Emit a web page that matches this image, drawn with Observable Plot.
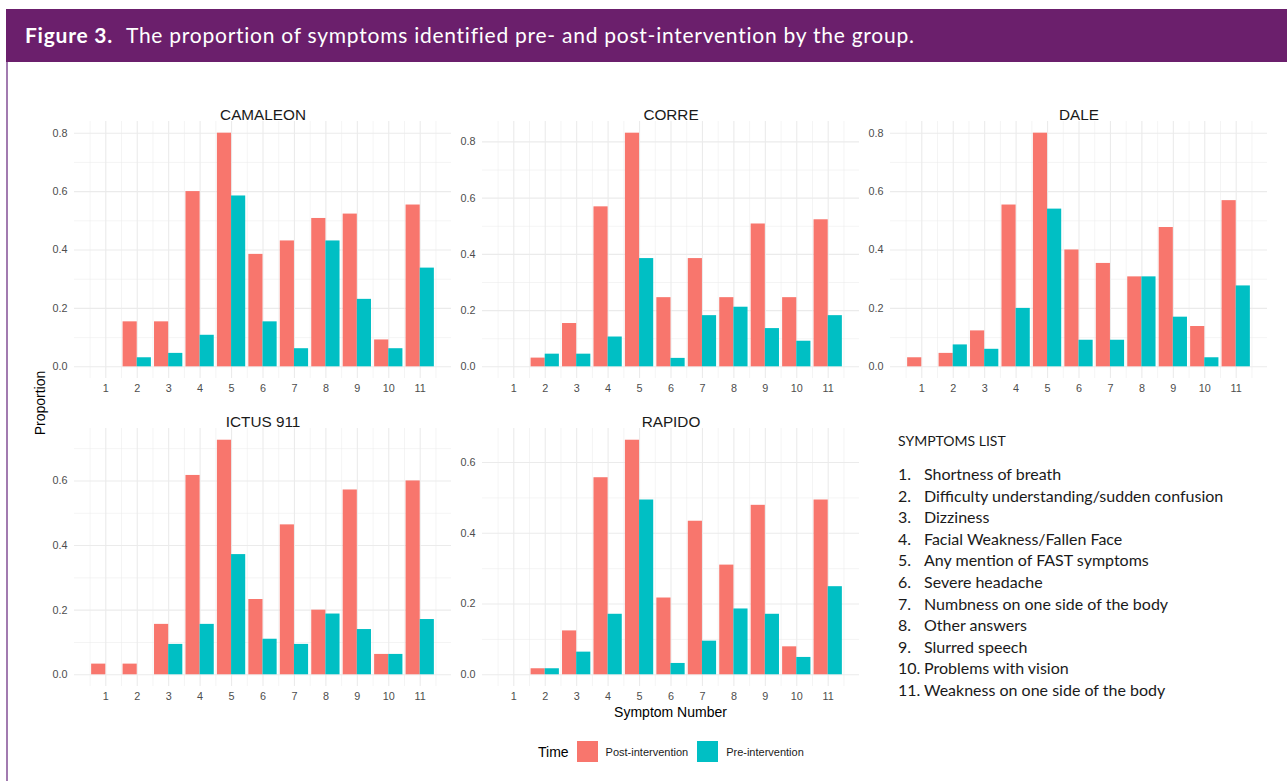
<!DOCTYPE html>
<html>
<head>
<meta charset="utf-8">
<script src="https://cdn.jsdelivr.net/npm/d3@7"></script>
<script src="https://cdn.jsdelivr.net/npm/@observablehq/plot@0.6"></script>
<style>
  body { margin: 0; background: #fff; }
  #fig { position: relative; width: 1287px; height: 781px; overflow: hidden; background: #fff;
         font-family: "Liberation Sans", Arial, sans-serif; }
  .abs { position: absolute; }
  #header { left: 6px; top: 9px; width: 1281px; height: 53px; background: #6B1F6C; }
  #leftBorder { left: 6px; top: 62px; width: 2px; height: 719px; background: #A27BB0; }
  #figTitle { left: 25px; top: 8px; height: 53px; line-height: 53px; color: #fff; white-space: nowrap;
              font-family: Lato, "Open Sans", sans-serif; font-size: 21px; letter-spacing: 0.75px; }
  #figTitle b { margin-right: 13px; }
  .panel svg { overflow: visible; }
  #ylab { font-size: 14px; color: #000; white-space: nowrap; transform: translate(-50%, -50%) rotate(-90deg);
          line-height: 16px; }
  #xlab { font-size: 14px; color: #000; white-space: nowrap; transform: translate(-50%, -50%); line-height: 16px; }
  #legend { display: flex; align-items: center; white-space: nowrap; }
  .sw { width: 21px; height: 21px; display: inline-block; }
  #symList { font-family: Lato, "Open Sans", sans-serif; color: #1a1a1a; }
  #symList .row { position: absolute; height: 21.5px; line-height: 21.5px; font-size: 16px; white-space: nowrap; }
</style>
</head>
<body>
<div id="fig">
  <div id="header" class="abs"></div>
  <div id="leftBorder" class="abs"></div>
  <div id="figTitle" class="abs"></div>
</div>
<script>
// ---------------- data ----------------
const figureLabel = "Figure 3.";
const figureTitle = "The proportion of symptoms identified pre- and post-intervention by the group.";
const symptoms = [1, 2, 3, 4, 5, 6, 7, 8, 9, 10, 11];
const timeLevels = ["Post-intervention", "Pre-intervention"];
const groups = ["CAMALEON", "CORRE", "DALE", "ICTUS 911", "RAPIDO"];

const camaleonPost = [0, 0.154, 0.154, 0.600, 0.800, 0.385, 0.431, 0.508, 0.523, 0.092, 0.554];
const camaleonPre  = [0, 0.031, 0.046, 0.108, 0.585, 0.154, 0.062, 0.431, 0.231, 0.062, 0.338];
const correPost    = [0, 0.031, 0.154, 0.569, 0.831, 0.246, 0.385, 0.246, 0.508, 0.246, 0.523];
const correPre     = [0, 0.045, 0.045, 0.106, 0.385, 0.030, 0.182, 0.212, 0.136, 0.091, 0.182];
const dalePost     = [0.031, 0.046, 0.123, 0.554, 0.800, 0.400, 0.354, 0.308, 0.477, 0.138, 0.569];
const dalePre      = [0, 0.075, 0.060, 0.200, 0.540, 0.091, 0.091, 0.308, 0.170, 0.031, 0.277];
const ictusPost    = [0.033, 0.033, 0.156, 0.617, 0.726, 0.233, 0.464, 0.200, 0.572, 0.063, 0.600];
const ictusPre     = [0, 0, 0.094, 0.156, 0.372, 0.110, 0.094, 0.188, 0.140, 0.063, 0.171];
const rapidoPost   = [0, 0.017, 0.124, 0.557, 0.663, 0.217, 0.434, 0.310, 0.479, 0.079, 0.494];
const rapidoPre    = [0, 0.017, 0.064, 0.171, 0.494, 0.032, 0.095, 0.186, 0.171, 0.049, 0.249];

const yTickValues  = [0, 0.2, 0.4, 0.6, 0.8];
const yMinorValues = [0.1, 0.3, 0.5, 0.7];
const xMinorValues = [0.5, 1.5, 2.5, 3.5, 4.5, 5.5, 6.5, 7.5, 8.5, 9.5, 10.5, 11.5];

const symptomsListTitle = "SYMPTOMS LIST";
const symptomNames = [
  "Shortness of breath",
  "Difficulty understanding/sudden confusion",
  "Dizziness",
  "Facial Weakness/Fallen Face",
  "Any mention of FAST symptoms",
  "Severe headache",
  "Numbness on one side of the body",
  "Other answers",
  "Slurred speech",
  "Problems with vision",
  "Weakness on one side of the body"
];
const xAxisTitle = "Symptom Number";
const yAxisTitle = "Proportion";
const legendTitle = "Time";

// ---------------- layout / style ----------------
const colors = ["#F8766D", "#00BFC4"];
const colLeft = [74, 482, 890];
const frameW = 377;
const rowTop = [120.5, 427.5];
const frameH = [257, 258];
const mL = 40, mR = 8, mT = 34, mB = 28;
const fig = document.getElementById("fig");

document.getElementById("figTitle").innerHTML = `<b>${figureLabel}</b>${figureTitle}`;

function drawPanel(title, post, pre, col, row) {
  const rows = [];
  symptoms.forEach((s, i) => {
    rows.push({s, time: timeLevels[0], v: post[i]});
    rows.push({s, time: timeLevels[1], v: pre[i]});
  });
  const m = d3.max(rows, d => d.v);
  const lo = -0.05 * m, hi = 1.05 * m;
  const yTicks = yTickValues.filter(t => t <= hi);
  const yMinor = yMinorValues.filter(t => t >= lo && t <= hi);
  const plot = Plot.plot({
    width: frameW + mL + mR,
    height: frameH[row] + mT + mB,
    marginLeft: mL, marginRight: mR, marginTop: mT, marginBottom: mB,
    style: {fontFamily: "'Liberation Sans', Arial, sans-serif", fontSize: "10.8px", color: "#4D4D4D", background: "transparent"},
    x: {domain: [0.005, 11.995], axis: null},
    y: {domain: [lo, hi], axis: null},
    color: {domain: timeLevels, range: colors},
    marks: [
      Plot.ruleY(yMinor, {stroke: "#EBEBEB", strokeWidth: 0.55}),
      Plot.ruleX(xMinorValues, {stroke: "#EBEBEB", strokeWidth: 0.55}),
      Plot.ruleY(yTicks, {stroke: "#EBEBEB", strokeWidth: 1.1}),
      Plot.ruleX(symptoms, {stroke: "#EBEBEB", strokeWidth: 1.1}),
      Plot.rect(rows, {
        x1: d => d.time === timeLevels[0] ? d.s - 0.45 : d.s,
        x2: d => d.time === timeLevels[0] ? d.s : d.s + 0.45,
        y1: () => 0, y2: "v", fill: "time"
      }),
      Plot.axisX(symptoms, {tickSize: 0, tickPadding: 6, label: null, tickFormat: d => String(d)}),
      Plot.axisY(yTicks, {tickSize: 0, tickPadding: 7, label: null, tickFormat: d3.format(".1f")}),
      Plot.text([title], {frameAnchor: "top", dy: -12.5, fontSize: 15.3, fill: "#1A1A1A"})
    ]
  });
  const wrap = document.createElement("div");
  wrap.className = "abs panel";
  wrap.style.left = (colLeft[col] - mL) + "px";
  wrap.style.top = (rowTop[row] - mT) + "px";
  wrap.appendChild(plot);
  fig.appendChild(wrap);
}

drawPanel(groups[0], camaleonPost, camaleonPre, 0, 0);
drawPanel(groups[1], correPost, correPre, 1, 0);
drawPanel(groups[2], dalePost, dalePre, 2, 0);
drawPanel(groups[3], ictusPost, ictusPre, 0, 1);
drawPanel(groups[4], rapidoPost, rapidoPre, 1, 1);

// axis titles
const ylab = document.createElement("div");
ylab.id = "ylab"; ylab.className = "abs"; ylab.textContent = yAxisTitle;
ylab.style.left = "40px"; ylab.style.top = "403px";
fig.appendChild(ylab);
const xlab = document.createElement("div");
xlab.id = "xlab"; xlab.className = "abs"; xlab.textContent = xAxisTitle;
xlab.style.left = "670.5px"; xlab.style.top = "712px";
fig.appendChild(xlab);

// legend
const legend = document.createElement("div");
legend.id = "legend"; legend.className = "abs";
legend.style.left = "538px"; legend.style.top = "741px"; legend.style.height = "21px";
legend.innerHTML = `<span style="font-size:14px;color:#000;margin-right:8px">${legendTitle}</span>` +
  timeLevels.map((t, i) => `<span class="sw" style="background:${colors[i]}"></span>` +
    `<span style="font-size:11px;color:#1a1a1a;margin-left:8px;margin-right:9px">${t}</span>`).join("");
fig.appendChild(legend);

// symptoms list
const list = document.createElement("div");
list.id = "symList";
const head = document.createElement("div");
head.className = "abs";
head.style.cssText = "left:898px;top:430px;line-height:22px;font-size:14px;white-space:nowrap;";
head.textContent = symptomsListTitle;
list.appendChild(head);
symptomNames.forEach((name, i) => {
  const num = document.createElement("div");
  num.className = "row";
  num.style.left = "898px";
  num.style.top = (463 + i * 21.6) + "px";
  num.textContent = (i + 1) + ".";
  const txt = document.createElement("div");
  txt.className = "row";
  txt.style.left = "924px";
  txt.style.top = (463 + i * 21.6) + "px";
  txt.textContent = name;
  list.appendChild(num);
  list.appendChild(txt);
});
fig.appendChild(list);
</script>
</body>
</html>
